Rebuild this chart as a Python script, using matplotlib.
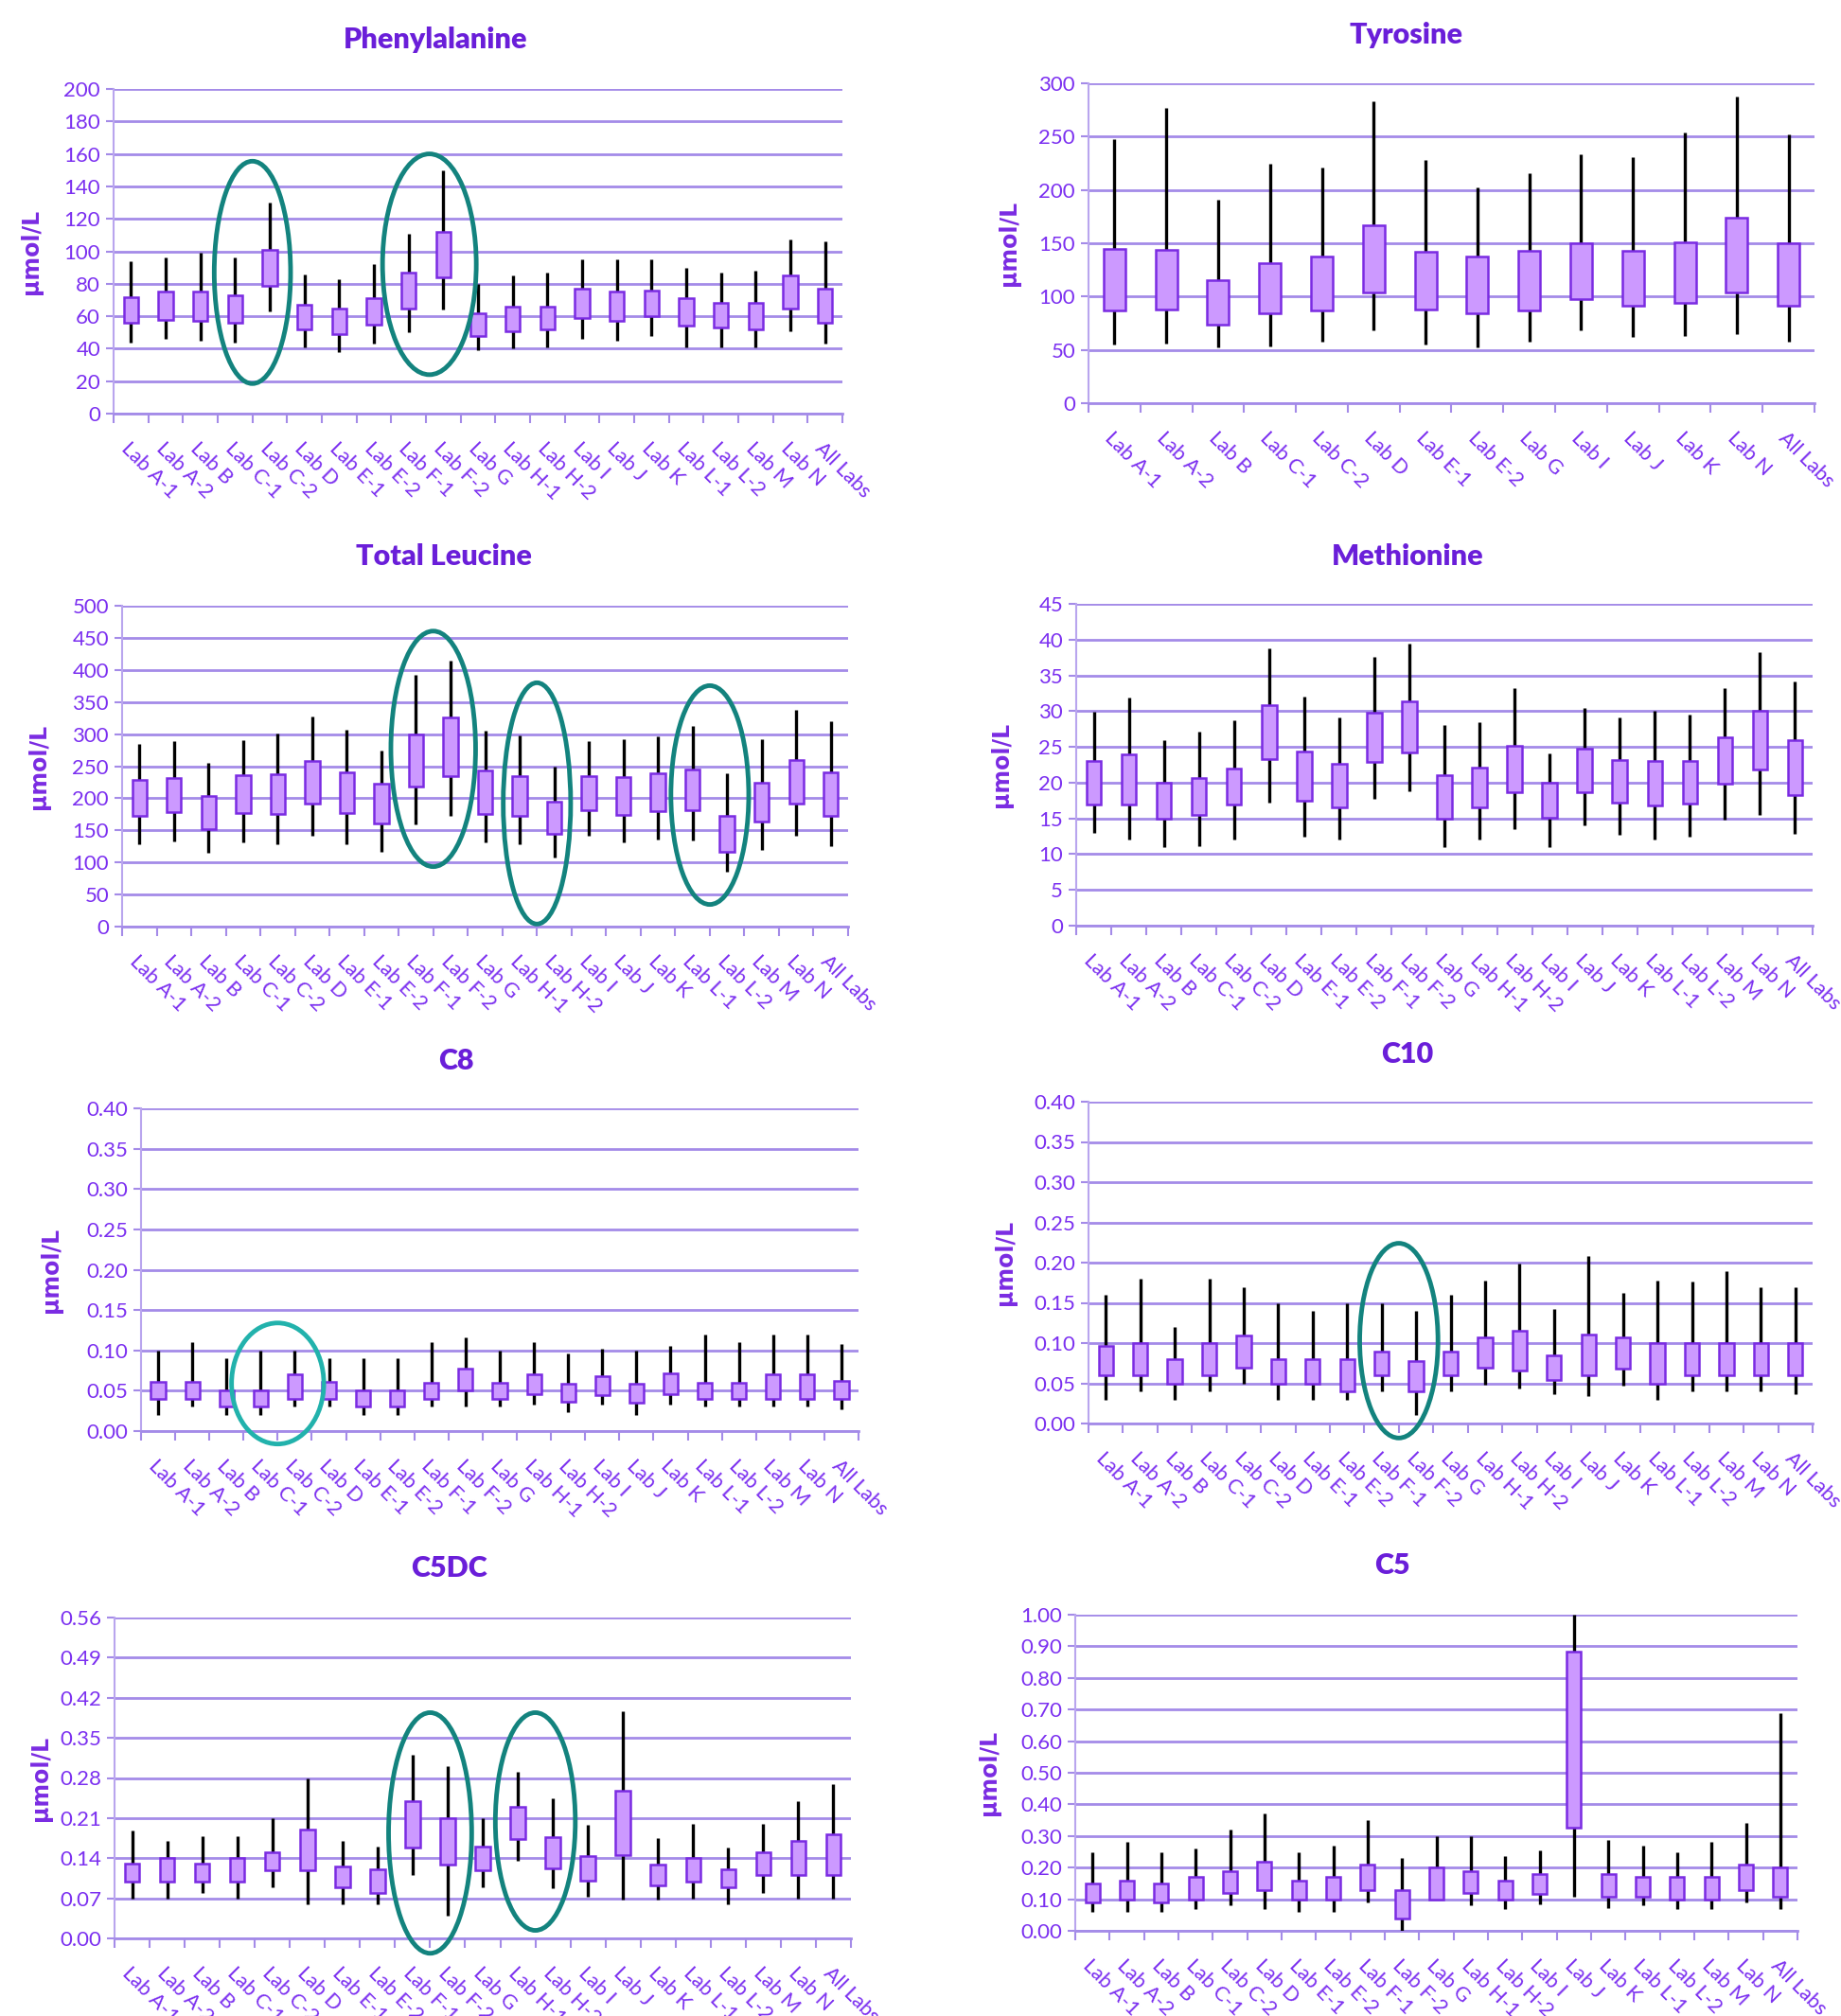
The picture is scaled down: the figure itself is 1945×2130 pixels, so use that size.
import matplotlib
matplotlib.use("Agg")
import matplotlib.pyplot as plt
from matplotlib.patches import Ellipse
import numpy as np

# category labels
labs = ["Lab A-1", "Lab A-2", "Lab B", "Lab C-1", "Lab C-2", "Lab D", "Lab E-1", "Lab E-2",
        "Lab F-1", "Lab F-2", "Lab G", "Lab H-1", "Lab H-2", "Lab I", "Lab J", "Lab K",
        "Lab L-1", "Lab L-2", "Lab M", "Lab N", "All Labs"]
labs_tyr = ["Lab A-1", "Lab A-2", "Lab B", "Lab C-1", "Lab C-2", "Lab D", "Lab E-1", "Lab E-2",
            "Lab G", "Lab I", "Lab J", "Lab K", "Lab N", "All Labs"]

# Phenylalanine: whisker low, box low, box high, whisker high
phe_lo = [44, 46, 45, 44, 63, 41, 38, 43, 50, 64, 39, 40, 41, 46, 45, 48, 41, 41, 41, 51, 43]
phe_q1 = [56, 58, 57, 56, 79, 52, 49, 55, 65, 84, 48, 51, 52, 59, 57, 60, 54, 53, 52, 65, 56]
phe_q3 = [72, 75, 75, 73, 101, 67, 65, 71, 87, 112, 62, 66, 66, 77, 75, 76, 71, 68, 68, 85, 77]
phe_hi = [94, 96, 99, 96, 130, 86, 83, 92, 111, 150, 80, 85, 87, 95, 95, 95, 90, 87, 88, 107, 106]

# Tyrosine
tyr_lo = [55, 56, 52, 53, 58, 68, 55, 52, 58, 68, 62, 63, 65, 58]
tyr_q1 = [87, 88, 74, 84, 87, 104, 88, 84, 87, 98, 91, 94, 104, 91]
tyr_q3 = [145, 144, 115, 131, 138, 167, 142, 138, 143, 150, 143, 151, 174, 150]
tyr_hi = [248, 277, 191, 225, 221, 283, 228, 202, 216, 233, 231, 254, 288, 252]

# Total Leucine
leu_lo = [129, 133, 115, 132, 129, 142, 129, 117, 160, 173, 132, 128, 108, 141, 131, 136, 134, 86, 119, 142, 125]
leu_q1 = [172, 179, 152, 177, 175, 192, 177, 161, 218, 235, 176, 172, 144, 181, 174, 180, 181, 117, 163, 192, 173]
leu_q3 = [228, 231, 203, 236, 238, 258, 241, 222, 299, 326, 243, 234, 194, 234, 233, 239, 245, 173, 224, 259, 241]
leu_hi = [285, 289, 255, 291, 301, 328, 307, 275, 392, 414, 305, 298, 250, 289, 292, 297, 312, 239, 292, 338, 320]

# Methionine
met_lo = [13.0, 12.0, 11.0, 11.1, 12.0, 17.2, 12.4, 12.0, 17.7, 18.8, 11.0, 12.1, 13.5, 11.0, 14.0, 12.7, 12.0, 12.4, 14.8, 15.5, 12.8]
met_q1 = [16.9, 16.9, 15.0, 15.5, 16.9, 23.3, 17.5, 16.5, 22.9, 24.2, 15.0, 16.5, 18.7, 15.1, 18.7, 17.2, 16.8, 17.1, 19.8, 21.9, 18.2]
met_q3 = [23.0, 24.0, 20.0, 20.7, 22.0, 30.8, 24.3, 22.6, 29.8, 31.4, 21.0, 22.1, 25.2, 20.0, 24.7, 23.2, 23.0, 23.0, 26.4, 30.1, 26.0]
met_hi = [29.9, 31.9, 26.0, 27.1, 28.7, 38.8, 32.0, 29.1, 37.6, 39.5, 28.0, 28.5, 33.2, 24.1, 30.5, 29.1, 30.1, 29.5, 33.2, 38.2, 34.2]

# C8
c8_lo = [0.020, 0.030, 0.020, 0.020, 0.030, 0.030, 0.020, 0.020, 0.030, 0.030, 0.030, 0.033, 0.024, 0.033, 0.020, 0.033, 0.030, 0.030, 0.030, 0.030, 0.027]
c8_q1 = [0.040, 0.040, 0.030, 0.030, 0.040, 0.040, 0.030, 0.030, 0.040, 0.050, 0.040, 0.046, 0.036, 0.045, 0.035, 0.046, 0.040, 0.040, 0.040, 0.040, 0.040]
c8_q3 = [0.061, 0.061, 0.050, 0.050, 0.070, 0.061, 0.050, 0.050, 0.060, 0.077, 0.060, 0.070, 0.059, 0.068, 0.059, 0.072, 0.060, 0.060, 0.070, 0.070, 0.062]
c8_hi = [0.100, 0.110, 0.090, 0.100, 0.100, 0.090, 0.090, 0.090, 0.110, 0.116, 0.100, 0.110, 0.096, 0.102, 0.100, 0.106, 0.120, 0.110, 0.120, 0.120, 0.108]

# C10
c10_lo = [0.030, 0.040, 0.030, 0.040, 0.050, 0.030, 0.030, 0.030, 0.040, 0.011, 0.040, 0.048, 0.043, 0.036, 0.034, 0.047, 0.030, 0.040, 0.040, 0.040, 0.036]
c10_q1 = [0.060, 0.060, 0.050, 0.060, 0.070, 0.050, 0.050, 0.040, 0.060, 0.040, 0.060, 0.069, 0.066, 0.054, 0.060, 0.068, 0.050, 0.060, 0.060, 0.060, 0.060]
c10_q3 = [0.097, 0.100, 0.080, 0.100, 0.110, 0.080, 0.080, 0.080, 0.090, 0.078, 0.090, 0.107, 0.115, 0.085, 0.111, 0.107, 0.100, 0.100, 0.100, 0.100, 0.100]
c10_hi = [0.160, 0.180, 0.120, 0.180, 0.170, 0.150, 0.140, 0.150, 0.150, 0.140, 0.160, 0.178, 0.199, 0.142, 0.208, 0.162, 0.178, 0.177, 0.190, 0.170, 0.170]

# C5DC
c5dc_lo = [0.070, 0.070, 0.080, 0.070, 0.090, 0.060, 0.060, 0.060, 0.110, 0.040, 0.090, 0.136, 0.087, 0.072, 0.068, 0.067, 0.070, 0.060, 0.080, 0.070, 0.070]
c5dc_q1 = [0.099, 0.099, 0.099, 0.099, 0.119, 0.119, 0.089, 0.080, 0.159, 0.129, 0.119, 0.174, 0.123, 0.100, 0.145, 0.092, 0.099, 0.089, 0.110, 0.110, 0.110]
c5dc_q3 = [0.130, 0.140, 0.130, 0.140, 0.150, 0.190, 0.126, 0.120, 0.240, 0.210, 0.160, 0.229, 0.177, 0.143, 0.258, 0.129, 0.140, 0.120, 0.150, 0.170, 0.181]
c5dc_hi = [0.189, 0.170, 0.179, 0.179, 0.210, 0.280, 0.170, 0.160, 0.321, 0.300, 0.210, 0.291, 0.245, 0.198, 0.396, 0.175, 0.200, 0.159, 0.200, 0.240, 0.269]

# C5
c5_lo = [0.06, 0.06, 0.06, 0.07, 0.08, 0.07, 0.06, 0.06, 0.09, 0.00, 0.10, 0.08, 0.07, 0.084, 0.109, 0.073, 0.08, 0.07, 0.07, 0.09, 0.07]
c5_q1 = [0.089, 0.099, 0.089, 0.099, 0.12, 0.129, 0.099, 0.099, 0.129, 0.04, 0.099, 0.119, 0.099, 0.117, 0.325, 0.109, 0.109, 0.099, 0.099, 0.129, 0.109]
c5_q3 = [0.15, 0.16, 0.15, 0.17, 0.19, 0.22, 0.16, 0.17, 0.21, 0.13, 0.20, 0.188, 0.158, 0.179, 0.884, 0.179, 0.17, 0.17, 0.17, 0.21, 0.20]
c5_hi = [0.248, 0.28, 0.248, 0.261, 0.319, 0.37, 0.248, 0.268, 0.349, 0.23, 0.30, 0.30, 0.238, 0.255, 1.00, 0.286, 0.268, 0.248, 0.28, 0.34, 0.689]

# highlight ellipses: (x centre on boundary index, y centre, width in categories, height, colour)
teal = "#13837E"
teal_light = "#22B2AC"
phe_ell = [(4.0, 87, 2.2, 137, teal), (9.1, 92, 2.7, 136, teal)]
leu_ell = [(9.0, 277, 2.45, 367, teal), (12.0, 192, 1.95, 376, teal), (17.0, 205, 2.25, 341, teal)]
c8_ell = [(4.0, 0.059, 2.7, 0.150, teal_light)]
c10_ell = [(9.0, 0.103, 2.27, 0.242, teal)]
c5dc_ell = [(9.0, 0.184, 2.37, 0.420, teal), (12.0, 0.204, 2.28, 0.380, teal)]

purple_txt = "#7B2FF0"
grid_col = "#A48BE8"
box_face = "#CC99FF"
box_edge = "#7A2BE2"

W, H = 1945, 2130
fig = plt.figure(figsize=(W / 100, H / 100), dpi=100)
font = ["Lato", "DejaVu Sans"]


def panel(box, title, title_xy, ylab_x, cats, lo, q1, q3, hi, ymax, ystep, fmt, ells=()):
    l, r, t, b = box
    ax = fig.add_axes([l / W, 1 - b / H, (r - l) / W, (b - t) / H])
    n = len(cats)
    x = np.arange(n) + 0.5
    lo, q1, q3, hi = map(np.array, (lo, q1, q3, hi))
    ax.vlines(x, lo, hi, color="black", lw=2.4, zorder=3)
    ax.bar(x, q3 - q1, bottom=q1, width=0.42, color=box_face, edgecolor=box_edge,
           linewidth=1.8, zorder=4)
    ax.set_xlim(0, n)
    ax.set_ylim(0, ymax)
    yt = np.arange(0, ymax + ystep / 2, ystep)
    ax.set_yticks(yt)
    ax.set_yticklabels([fmt.format(v) for v in yt], family=font, fontsize=16, color=purple_txt)
    ax.yaxis.grid(True, color=grid_col, lw=2.0)
    ax.set_axisbelow(True)
    ax.tick_params(axis="y", length=6, color=grid_col, width=1.5, pad=4)
    ax.set_xticks(np.arange(n + 1))
    ax.set_xticklabels([])
    ax.set_xticks(x, minor=True)
    ax.set_xticklabels(cats, minor=True, rotation=-45, ha="left", va="top",
                       rotation_mode="anchor", family=font, fontsize=15.5, color=purple_txt)
    ax.tick_params(axis="x", which="major", length=7, color=grid_col, width=1.5)
    ax.tick_params(axis="x", which="minor", length=0, pad=19)
    for s in ("top", "right"):
        ax.spines[s].set_visible(False)
    ax.spines["left"].set_color("#B9A5EE")
    ax.spines["left"].set_linewidth(1.5)
    ax.spines["bottom"].set_color(grid_col)
    ax.spines["bottom"].set_linewidth(2.0)
    for cx, cy, ew, eh, col in ells:
        ax.add_patch(Ellipse((cx, cy), ew, eh, fill=False, edgecolor=col, lw=3.5,
                             zorder=6, clip_on=False))
    fig.text(title_xy[0] / W, 1 - title_xy[1] / H, title, ha="center", va="center",
             fontsize=22, fontweight="heavy", color="#6A1ED9", family=font)
    fig.text(ylab_x / W, 1 - (t + b) / 2 / H, "µmol/L", rotation=90, ha="center", va="center",
             fontsize=17, fontweight="bold", color="#7A2BE2")
    return ax


panel((120, 890, 94, 437), "Phenylalanine", (460, 42), 33, labs,
      phe_lo, phe_q1, phe_q3, phe_hi, 200, 20, "{:.0f}", phe_ell)
panel((1150, 1917, 88, 426), "Tyrosine", (1486, 37), 1066, labs_tyr,
      tyr_lo, tyr_q1, tyr_q3, tyr_hi, 300, 50, "{:.0f}")
panel((129, 896, 640, 979), "Total Leucine", (469, 588), 41, labs,
      leu_lo, leu_q1, leu_q3, leu_hi, 500, 50, "{:.0f}", leu_ell)
panel((1137, 1915, 638, 978), "Methionine", (1487, 588), 1058, labs,
      met_lo, met_q1, met_q3, met_hi, 45, 5, "{:.0f}")
panel((149, 907, 1171, 1512), "C8", (482, 1121), 54, labs,
      c8_lo, c8_q1, c8_q3, c8_hi, 0.40, 0.05, "{:.2f}", c8_ell)
panel((1150, 1915, 1164, 1504), "C10", (1487, 1114), 1062, labs,
      c10_lo, c10_q1, c10_q3, c10_hi, 0.40, 0.05, "{:.2f}", c10_ell)
panel((121, 899, 1709, 2048), "C5DC", (474, 1657), 43, labs,
      c5dc_lo, c5dc_q1, c5dc_q3, c5dc_hi, 0.56, 0.07, "{:.2f}", c5dc_ell)
panel((1136, 1899, 1706, 2040), "C5", (1471, 1654), 1045, labs,
      c5_lo, c5_q1, c5_q3, c5_hi, 1.00, 0.10, "{:.2f}")

fig.savefig("out.png", dpi=100, facecolor="white")
